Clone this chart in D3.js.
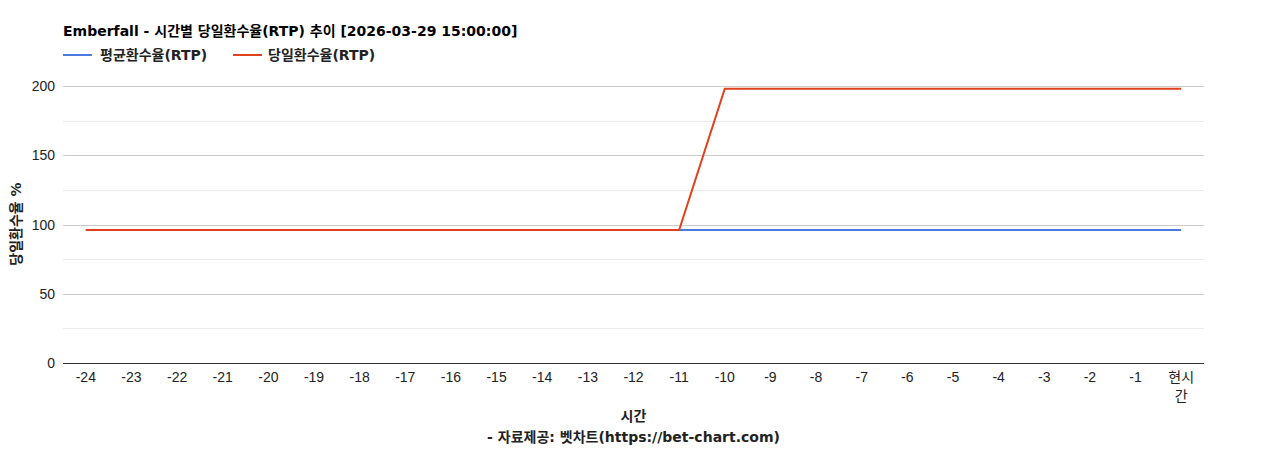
<!DOCTYPE html>
<html><head><meta charset="utf-8">
<script src="https://cdn.jsdelivr.net/npm/d3@7"></script>
<style>
body{margin:0;background:#fff;}
text{font-family:"Liberation Sans","Noto Sans CJK KR",Arial,sans-serif;}
.b{font-family:"DejaVu Sans","Noto Sans CJK KR",sans-serif;font-weight:bold;}
</style></head><body>
<svg id="c" width="1268" height="450"></svg>
<script>
const categories = ["-24","-23","-22","-21","-20","-19","-18","-17","-16","-15","-14","-13","-12","-11","-10","-9","-8","-7","-6","-5","-4","-3","-2","-1","현시간"];
const avgRTP   = [96,96,96,96,96,96,96,96,96,96,96,96,96,96,96,96,96,96,96,96,96,96,96,96,96];
const todayRTP = [96,96,96,96,96,96,96,96,96,96,96,96,96,96,198,198,198,198,198,198,198,198,198,198,198];
const seriesNames = ["평균환수율(RTP)","당일환수율(RTP)"];
const yTicks = [0,50,100,150,200];
const yMinor = [25,75,125,175];
const titleText = "Emberfall - 시간별 당일환수율(RTP) 추이 [2026-03-29 15:00:00]";
const xTitle = "시간";
const yTitle = "당일환수율 %";
const footer = "- 자료제공: 벳차트(https://bet-chart.com)";
const colors = ["#4a7ae0","#e0401c"];

const svg = d3.select("#c");
const L=63,R=1204,T=86,B=363;
const x = d3.scalePoint().domain(categories).range([L,R]).padding(0.5);
const y = d3.scaleLinear().domain([0,200]).range([B,T]);

// grid
svg.append("g").selectAll("line").data(yMinor).join("line")
  .attr("x1",L).attr("x2",R).attr("y1",d=>Math.round(y(d))+0.5).attr("y2",d=>Math.round(y(d))+0.5)
  .attr("stroke","#ebebeb");
svg.append("g").selectAll("line").data(yTicks.filter(d=>d>0)).join("line")
  .attr("x1",L).attr("x2",R).attr("y1",d=>Math.round(y(d))+0.5).attr("y2",d=>Math.round(y(d))+0.5)
  .attr("stroke","#cccccc");

// y labels
svg.append("g").selectAll("text").data(yTicks).join("text")
  .attr("x",55).attr("y",d=>y(d)+5).attr("text-anchor","end")
  .attr("font-size",14).attr("fill","#222").text(d=>d);

// x labels
const xl = svg.append("g").selectAll("text").data(categories).join("text")
  .attr("x",d=>x(d)).attr("y",382).attr("text-anchor","middle")
  .attr("font-size",14).attr("fill","#222");
xl.each(function(d){
  const t=d3.select(this);
  if(d.length>2 && !d.startsWith("-")){
    t.append("tspan").attr("x",x(d)).attr("dy",0).text(d.slice(0,2));
    t.append("tspan").attr("x",x(d)).attr("dy",19).text(d.slice(2));
  } else t.text(d);
});

// lines
const line = d3.line().x((d,i)=>x(categories[i])).y(d=>y(d));
[avgRTP,todayRTP].forEach((s,i)=>{
  svg.append("path").datum(s).attr("d",line).attr("fill","none")
    .attr("stroke",colors[i]).attr("stroke-width",2);
});

// baseline
svg.append("line").attr("x1",L).attr("x2",R).attr("y1",B+0.5).attr("y2",B+0.5).attr("stroke","#333");

// title
svg.append("text").attr("class","b").attr("x",63).attr("y",36).attr("font-size",14).attr("fill","#000").text(titleText);

// legend
const lg=[{x:63,tx:100},{x:233,tx:268}];
seriesNames.forEach((n,i)=>{
  svg.append("line").attr("x1",lg[i].x).attr("x2",lg[i].x+29).attr("y1",55).attr("y2",55)
    .attr("stroke",colors[i]).attr("stroke-width",2);
  svg.append("text").attr("class","b").attr("x",lg[i].tx).attr("y",60).attr("font-size",14).attr("fill","#222").text(n);
});

// axis titles
svg.append("text").attr("class","b").attr("transform","translate(21,224) rotate(-90)")
  .attr("text-anchor","middle").attr("font-size",14).attr("fill","#222").text(yTitle);
svg.append("text").attr("class","b").attr("x",(L+R)/2).attr("y",421).attr("text-anchor","middle")
  .attr("font-size",14).attr("fill","#222").text(xTitle);
svg.append("text").attr("class","b").attr("x",(L+R)/2).attr("y",442).attr("text-anchor","middle")
  .attr("font-size",14).attr("fill","#222").text(footer);
</script></body></html>
